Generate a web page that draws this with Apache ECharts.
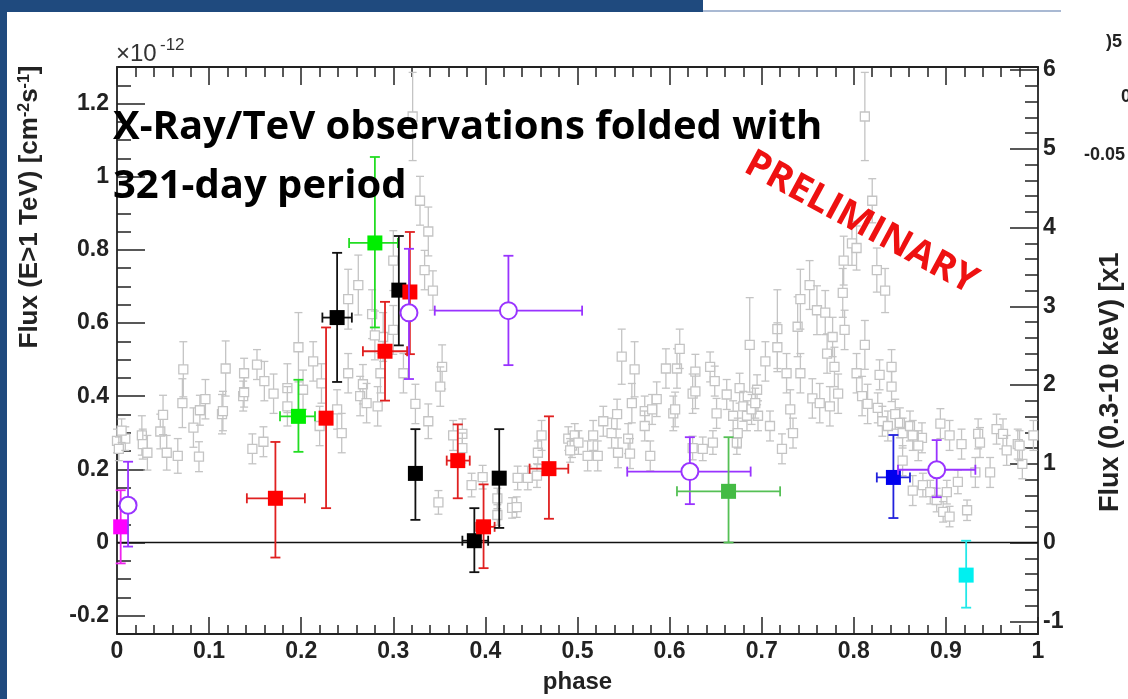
<!DOCTYPE html>
<html><head><meta charset="utf-8">
<script src="https://cdn.jsdelivr.net/npm/echarts@6/dist/echarts.min.js"></script>
<style>html,body{margin:0;padding:0;background:#fff;overflow:hidden}#c{width:1128px;height:699px}</style>
</head><body><div id="c"></div>
<script>
// ---------- X-ray data (right axis, gray open squares) ----------
const xrayPhase = [
0.000,0.002,0.009,0.005,0.027,0.028,0.033,0.047,0.050,0.054,
0.066,0.071,0.072,0.083,0.089,0.090,0.096,0.114,0.115,0.118,
0.137,0.138,0.138,0.147,0.152,0.159,0.160,0.170,0.185,0.185,
0.197,0.202,0.213,0.220,0.222,0.239,0.244,0.251,0.264,0.267,
0.271,0.283,0.286,0.289,0.262,0.251,0.300,0.277,0.300,0.280,
0.321,0.329,0.338,0.334,0.343,0.311,0.324,0.338,0.353,0.351,
0.365,0.349,0.375,0.375,0.385,0.397,0.413,0.413,0.429,0.434,
0.435,0.446,0.456,0.457,0.461,0.490,0.494,0.497,0.501,0.492,
0.511,0.517,0.522,0.528,0.537,0.543,0.544,0.555,0.557,0.559,
0.548,0.562,0.573,0.573,0.579,0.581,0.586,0.596,0.604,0.606,
0.608,0.611,0.625,0.628,0.628,0.644,0.649,0.651,0.662,0.669,
0.676,0.680,0.687,0.695,0.696,0.704,0.709,0.717,0.717,0.722,
0.727,0.731,0.734,0.739,0.742,0.742,0.752,0.755,0.760,0.763,
0.769,0.771,0.774,0.777,0.779,0.783,0.788,0.789,0.790,0.798,
0.803,0.812,0.820,0.825,0.834,0.803,0.809,0.812,0.815,0.828,
0.841,0.841,0.826,0.831,0.837,0.845,0.850,0.853,0.861,0.864,
0.874,0.870,0.853,0.864,0.875,0.883,0.890,0.894,0.901,0.897,
0.904,0.904,0.913,0.917,0.923,0.932,0.935,0.937,0.948,0.955,
0.962,0.966,0.978,0.983,0.995,0.980,0.625,0.636,0.647,0.673,
0.674,0.684,0.689,0.693];
const xrayFlux = [
1.29,1.19,1.32,1.42,1.36,1.25,1.14,1.41,1.62,1.14,
1.10,1.77,2.20,1.46,1.09,1.68,1.82,1.63,1.67,2.21,
1.86,1.91,2.15,1.19,2.26,1.28,2.05,1.89,1.96,1.73,
2.48,1.94,2.30,1.48,2.02,1.69,1.39,2.15,1.86,2.01,
1.77,1.73,2.15,2.61,3.27,3.09,3.58,2.90,2.70,2.63,
5.41,4.34,3.95,3.46,3.20,2.15,1.76,1.54,2.23,1.98,
1.36,0.51,1.38,1.20,0.73,0.83,0.56,0.35,0.44,0.45,
0.82,0.82,0.85,1.14,1.36,1.32,1.23,1.36,1.27,1.17,
1.10,1.36,1.10,1.54,1.39,1.63,1.14,1.32,1.13,1.77,
2.36,2.20,1.67,1.48,1.10,1.69,1.82,2.21,1.64,1.69,
2.21,2.46,1.89,2.17,1.92,2.23,2.05,1.64,1.88,1.61,
1.96,1.73,2.51,1.94,1.61,2.30,1.48,2.71,2.48,1.19,
2.15,1.69,1.39,2.74,3.09,2.15,3.27,1.83,2.95,1.77,
2.92,2.40,1.73,2.61,2.23,1.89,3.17,3.58,2.70,3.80,
3.74,5.41,4.34,3.46,3.20,2.15,1.86,2.51,1.76,2.13,
2.23,1.98,1.71,1.54,1.48,1.63,1.52,1.39,1.48,1.36,
1.33,1.23,1.04,0.66,0.73,0.64,0.54,1.51,0.64,0.39,
0.33,1.36,0.77,1.25,0.41,0.89,1.38,1.27,0.89,1.44,
1.38,1.17,1.25,1.00,1.36,1.23,1.20,1.19,1.27,1.27,
1.39,1.61,1.69,1.77];
const xrayErr = [
.15,.15,.15,.15,.25,.19,.22,.22,.25,.22,
.22,.31,.35,.25,.19,.19,.25,.25,.25,.35,
.19,.19,.19,.19,.19,.19,.25,.25,.31,.25,
.44,.25,.25,.25,.25,.25,.25,.25,.25,.25,
.25,.25,.25,.31,.38,.38,.38,.31,.31,.31,
.56,.31,.31,.25,.25,.25,.25,.22,.28,.25,
.19,.15,.19,.19,.15,.15,.13,.13,.13,.13,
.15,.15,.15,.15,.19,.15,.15,.15,.15,.15,
.19,.19,.19,.19,.19,.19,.19,.19,.19,.25,
.35,.35,.19,.19,.19,.19,.22,.25,.22,.22,
.25,.25,.25,.22,.22,.19,.19,.19,.19,.19,
.19,.19,.60,.19,.19,.25,.19,.50,.31,.19,
.25,.25,.19,.38,.38,.25,.31,.25,.31,.25,
.28,.25,.25,.25,.25,.25,.31,.31,.25,.28,
.28,.56,.28,.28,.28,.25,.25,.31,.25,.19,
.22,.19,.19,.19,.19,.19,.19,.19,.19,.19,
.19,.19,.19,.19,.15,.15,.15,.19,.15,.13,
.13,.19,.15,.19,.13,.19,.19,.19,.19,.19,
.19,.19,.19,.19,.19,.19,.15,.15,.15,.15,
.19,.19,.19,.19];

// ---------- TeV data (left axis, x1e-12) ----------
const tevPhase = [0.004,0.012,0.172,0.197,0.227,0.239,0.280,0.291,0.306,0.318,0.317,0.425,0.324,0.370,0.388,0.398,0.415,0.469,0.622,0.664,0.843,0.890,0.922];
const tevFlux  = [0.043,0.102,0.121,0.345,0.340,0.615,0.819,0.523,0.690,0.685,0.628,0.634,0.189,0.224,0.005,0.043,0.176,0.202,0.194,0.140,0.178,0.199,-0.089];
const tevFluxLo= [-0.057,-0.011,-0.041,0.248,0.094,0.439,0.588,0.388,0.539,0.515,0.447,0.485,0.062,0.121,-0.081,-0.070,0.040,0.065,0.105,0.000,0.067,0.124,-0.178];
const tevFluxHi= [0.143,0.221,0.275,0.445,0.588,0.792,1.054,0.658,0.838,0.849,0.803,0.784,0.310,0.323,0.094,0.159,0.310,0.345,0.288,0.288,0.294,0.280,0.005];
const tevPhaseLo=[0.000,0.004,0.141,0.177,0.227,0.223,0.252,0.267,0.306,0.318,0.317,0.345,0.319,0.358,0.375,0.390,0.415,0.448,0.554,0.608,0.825,0.848,0.922];
const tevPhaseHi=[0.008,0.020,0.204,0.215,0.227,0.255,0.305,0.315,0.306,0.318,0.317,0.505,0.330,0.383,0.403,0.410,0.415,0.490,0.688,0.720,0.861,0.932,0.922];
const tevGroup = ['magenta','purple','red','green','red','black','green','red','black','red','purple','purple','black','red','black','red','black','red','purple','green2','blue','purple','cyan'];

const leftTicks  = [-0.2,0,0.2,0.4,0.6,0.8,1,1.2];
const rightTicks = [-1,0,1,2,3,4,5,6];
const zeroLine = [[0,0],[1,0]];

// ---------- styling ----------
const AX = '#222';
const LEFT_MIN=-0.25, LEFT_MAX=1.3, RATIO=4.645;
const leftMinor=[]; for(let i=-5;i<=26;i++) leftMinor.push(+(i*0.05).toFixed(2));
const rightMinor=[]; for(let i=-5;i<=30;i++) rightMinor.push(+(i*0.2).toFixed(1));
const groupStyle = {
  red:{fill:'#ff0000', line:'#e02020', marker:'square'},
  black:{fill:'#000000', line:'#111111', marker:'square'},
  green:{fill:'#00ee00', line:'#22dd22', marker:'square'},
  green2:{fill:'#44bb44', line:'#55c055', marker:'square'},
  blue:{fill:'#0000ee', line:'#2222dd', marker:'square'},
  magenta:{fill:'#ff00ff', line:'#ee22ee', marker:'square'},
  cyan:{fill:'#00f0f0', line:'#22e8e8', marker:'square'},
  purple:{fill:'#ffffff', line:'#9933ff', marker:'circle'}
};

function makeRender(getStyle){
  return function(params, api){
    const x=api.value(0), y=api.value(1), xl=api.value(2), xh=api.value(3), yl=api.value(4), yh=api.value(5);
    const st=getStyle(params.dataIndex);
    const c=api.coord([x,y]);
    const pyl=api.coord([x,yl])[1], pyh=api.coord([x,yh])[1];
    const pxl=api.coord([xl,y])[0], pxh=api.coord([xh,y])[0];
    const ls={stroke:st.line, lineWidth:st.lw};
    const ch=[];
    const cw=st.cap;
    ch.push({type:'line',shape:{x1:c[0],y1:pyl,x2:c[0],y2:pyh},style:ls});
    ch.push({type:'line',shape:{x1:c[0]-cw,y1:pyl,x2:c[0]+cw,y2:pyl},style:ls});
    ch.push({type:'line',shape:{x1:c[0]-cw,y1:pyh,x2:c[0]+cw,y2:pyh},style:ls});
    if(pxh-pxl>2){
      ch.push({type:'line',shape:{x1:pxl,y1:c[1],x2:pxh,y2:c[1]},style:ls});
      ch.push({type:'line',shape:{x1:pxl,y1:c[1]-cw,x2:pxl,y2:c[1]+cw},style:ls});
      ch.push({type:'line',shape:{x1:pxh,y1:c[1]-cw,x2:pxh,y2:c[1]+cw},style:ls});
    }
    const s=st.size;
    if(st.marker==='circle'){
      ch.push({type:'circle',shape:{cx:c[0],cy:c[1],r:s/2},style:{fill:'#fff',stroke:st.line,lineWidth:2}});
    } else if(st.marker==='open'){
      ch.push({type:'rect',shape:{x:c[0]-s/2,y:c[1]-s/2,width:s,height:s},style:{fill:'#fff',stroke:st.line,lineWidth:1.3}});
    } else {
      ch.push({type:'rect',shape:{x:c[0]-s/2,y:c[1]-s/2,width:s,height:s},style:{fill:st.fill}});
    }
    return {type:'group',children:ch};
  };
}

const xrayData = xrayPhase.map((p,i)=>[p,xrayFlux[i],p,p,xrayFlux[i]-xrayErr[i],xrayFlux[i]+xrayErr[i]]);
const tevData = tevPhase.map((p,i)=>[p,tevFlux[i],tevPhaseLo[i],tevPhaseHi[i],tevFluxLo[i],tevFluxHi[i]]);
const grayStyle={line:'#c4c4c4',lw:1.3,cap:4,size:9,marker:'open'};

const FF='"Liberation Sans", Arial, sans-serif';
const labelFont={color:AX,fontSize:23,fontWeight:'bold',fontFamily:FF};
const tick=(len,vals)=>{const o={show:true,inside:true,length:len,lineStyle:{color:AX,width:1.5}}; if(vals) o.customValues=vals; return o;};
const txt=(x,y,text,font,extra)=>Object.assign({type:'text',z:60,x:x,y:y,style:Object.assign({text:text,font:font,fill:AX,textAlign:'left',textVerticalAlign:'middle',align:'left',verticalAlign:'middle'},extra||{})});

const chart=echarts.init(document.getElementById('c'),null,{renderer:'canvas'});
chart.setOption({
  animation:false,
  backgroundColor:'#ffffff',
  grid:{left:117,top:67,width:921,height:573,containLabel:false},
  xAxis:[
    {type:'value',position:'bottom',min:0,max:1,interval:0.1,
     axisLine:{show:true,onZero:false,lineStyle:{color:AX,width:1.8}},
     axisTick:tick(17),
     minorTick:{show:true,splitNumber:5,length:9,lineStyle:{color:AX,width:1.5}},
     axisLabel:Object.assign({margin:6},labelFont),
     splitLine:{show:false},minorSplitLine:{show:false},
     name:'phase',nameLocation:'middle',nameGap:36,
     nameTextStyle:{color:AX,fontSize:24,fontWeight:'bold',fontFamily:FF}},
    {type:'value',position:'top',min:0,max:1,interval:0.1,
     axisLine:{show:true,onZero:false,lineStyle:{color:AX,width:1.8}},
     axisTick:tick(18),
     minorTick:{show:true,splitNumber:5,length:10,lineStyle:{color:AX,width:1.5}},
     axisLabel:{show:false},splitLine:{show:false}}
  ],
  yAxis:[
    {type:'value',position:'left',min:LEFT_MIN,max:LEFT_MAX,
     axisLine:{show:true,onZero:false,lineStyle:{color:AX,width:1.8}},
     axisTick:tick(28,leftTicks),
     axisLabel:Object.assign({margin:8,customValues:leftTicks},labelFont),
     splitLine:{show:false}},
    {type:'value',position:'left',min:LEFT_MIN,max:LEFT_MAX,
     axisLine:{show:false,onZero:false},axisTick:tick(14,leftMinor),
     axisLabel:{show:false},splitLine:{show:false}},
    {type:'value',position:'right',min:LEFT_MIN*RATIO,max:LEFT_MAX*RATIO,
     axisLine:{show:true,onZero:false,lineStyle:{color:AX,width:1.8}},
     axisTick:tick(28,rightTicks),
     axisLabel:Object.assign({margin:5,customValues:rightTicks},labelFont),
     splitLine:{show:false}},
    {type:'value',position:'right',min:LEFT_MIN*RATIO,max:LEFT_MAX*RATIO,
     axisLine:{show:false,onZero:false},axisTick:tick(13,rightMinor),
     axisLabel:{show:false},splitLine:{show:false}}
  ],
  series:[
    {type:'custom',name:'X-ray',xAxisIndex:0,yAxisIndex:2,z:2,silent:true,
     renderItem:makeRender(()=>grayStyle),data:xrayData,encode:{x:0,y:1}},
    {type:'line',xAxisIndex:0,yAxisIndex:0,z:3,data:zeroLine,symbol:'none',silent:true,
     lineStyle:{color:'#111',width:1.5}},
    {type:'custom',name:'TeV',xAxisIndex:0,yAxisIndex:0,z:4,silent:true,
     renderItem:makeRender(i=>{const g=groupStyle[tevGroup[i]];return {fill:g.fill,line:g.line,lw:1.8,cap:5,size:g.marker==='circle'?17:15,marker:g.marker};}),
     data:tevData,encode:{x:0,y:1}}
  ],
  graphic:[
    {type:'rect',z:50,shape:{x:0,y:0,width:703,height:12},style:{fill:'#1f4a7e'}},
    {type:'rect',z:50,shape:{x:0,y:0,width:7,height:699},style:{fill:'#1f4a7e'}},
    {type:'rect',z:50,shape:{x:703,y:10,width:358,height:2},style:{fill:'#a9b9d3'}},
    txt(113,128,'X-Ray/TeV observations folded with','bold 40px "Open Sans"',{fill:'#000'}),
    txt(113,187,'321-day period','bold 40px "Open Sans"',{fill:'#000'}),
    {type:'text',z:60,x:861,y:223,rotation:-28.5*Math.PI/180,style:{text:'PRELIMINARY',font:'bold 38px "Open Sans"',fill:'#ee1111',textAlign:'center',textVerticalAlign:'middle',align:'center',verticalAlign:'middle'}},
    txt(116,54,'×10','24px "Liberation Sans"',{fill:'#333'}),
    txt(160,45,'-12','17px "Liberation Sans"',{fill:'#333'}),
    {type:'text',z:60,x:30,y:207,rotation:Math.PI/2,style:{text:'Flux (E>1 TeV) [cm{s|-2}s{s|-1}]',font:'bold 26px "Liberation Sans"',fill:AX,textAlign:'center',textVerticalAlign:'middle',align:'center',verticalAlign:'middle',
      rich:{s:{fontSize:16,fontWeight:'bold',fontFamily:'Liberation Sans',lineHeight:16,verticalAlign:'top',fill:AX}}}},
    {type:'text',z:60,x:1111,y:512,rotation:Math.PI/2,style:{text:'Flux (0.3-10 keV) [x1',font:'bold 27px "Liberation Sans"',fill:AX,textAlign:'left',textVerticalAlign:'middle',align:'left',verticalAlign:'middle'}},
    txt(1084,155,'-0.05','bold 18px "Liberation Sans"'),
    txt(1121,97,'0','bold 18px "Liberation Sans"'),
    txt(1106,42,')5','bold 18px "Liberation Sans"')
  ]
});
</script>
</body></html>
